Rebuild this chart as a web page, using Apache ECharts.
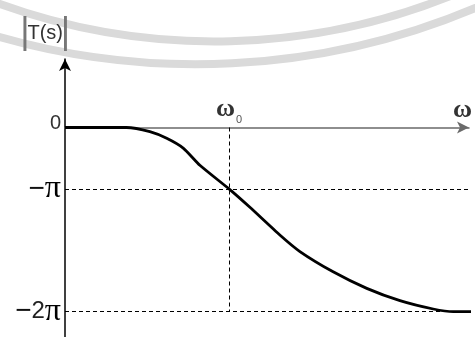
<!DOCTYPE html>
<html>
<head>
<meta charset="utf-8">
<script src="https://cdn.jsdelivr.net/npm/echarts@6/dist/echarts.min.js"></script>
<style>html,body{margin:0;padding:0;background:#fff}#c{width:475px;height:337px}</style>
</head>
<body>
<div id="c"></div>
<script>
// x in units where omega_0 = 4.0, y in "levels": 0 -> 0, -pi -> -1, -2pi -> -3
const omegaX = [0, 1.50, 2.07, 2.48, 2.89, 3.29, 4.0, 4.51, 5.24, 5.73, 6.54, 7.36, 8.17, 8.98, 9.47, 10.0];
const phaseY = [0, 0, -0.068, -0.176, -0.339, -0.615, -1.0, -1.30, -1.75, -2.02, -2.35, -2.62, -2.82, -2.956, -3.0, -3.0];
const yTickValues = [0, -1, -3];
const yTickLabels = ['0', '−π', '−2π'];
const omega0 = 4.0;
const flatStart = 9.47;
const xMax = (469 - 65) / 41;

const chart = echarts.init(document.getElementById('c'), null, {renderer: 'canvas'});
const dash = {color: '#000', width: 1, type: [4, 3]};
chart.setOption({
  animation: false,
  backgroundColor: '#fff',
  graphic: [
    {type: 'arc', silent: true, z: -10, shape: {cx: 214.6, cy: -593, r: 634.4, startAngle: Math.PI/2 - 0.45, endAngle: Math.PI/2 + 0.4}, style: {stroke: '#dadada', lineWidth: 8, fill: null}},
    {type: 'arc', silent: true, z: -10, shape: {cx: 196, cy: -656.7, r: 720.9, startAngle: Math.PI/2 - 0.45, endAngle: Math.PI/2 + 0.35}, style: {stroke: '#dadada', lineWidth: 8, fill: null}}
  ],
  grid: {left: 65, right: 6, top: 59, bottom: 0, containLabel: false},
  xAxis: {
    type: 'value', min: 0, max: xMax,
    axisLine: {onZero: true, lineStyle: {color: '#6a6a6a', width: 1.5}, symbol: ['none', 'arrow'], symbolSize: [9, 12]},
    axisTick: {show: false},
    splitLine: {show: false},
    axisLabel: {show: false},
    name: 'ω', nameLocation: 'end', nameGap: -16,
    nameTextStyle: {fontFamily: 'Liberation Serif', fontSize: 26, fontWeight: 'bold', color: '#333', verticalAlign: 'bottom', padding: [0, 0, 4, 0]}
  },
  yAxis: {
    type: 'value', min: -(337 - 127.5) / 61.4, max: (127.5 - 59) / 61.4,
    axisLine: {onZero: true, lineStyle: {color: '#000', width: 1.5}, symbol: ['none', 'arrow'], symbolSize: [9, 12]},
    axisTick: {show: false},
    splitLine: {show: false},
    axisLabel: {
      customValues: yTickValues, margin: 4,
      formatter: (v) => {
        const t = yTickLabels[yTickValues.indexOf(v)];
        if (t === '0') return '{z|0}';
        if (t === '−π') return '{m|−}{p|π}';
        return '{m|−}{n|2}{p|π}';
      },
      rich: {
        z: {fontFamily: 'Liberation Sans Narrow, Liberation Sans', fontSize: 20, color: '#333', padding: [0, 0, 8, 0]},
        m: {fontFamily: 'Liberation Sans', fontSize: 28, color: '#111'},
        n: {fontFamily: 'Liberation Sans', fontSize: 24, color: '#222'},
        p: {fontFamily: 'Liberation Serif', fontSize: 32, color: '#000'}
      }
    },
    name: '{b||}{t|T(s)}{b||}', nameLocation: 'end', nameGap: 8,
    nameTextStyle: {
      align: 'right', padding: [0, -3, 0, 0],
      rich: {
        b: {fontFamily: 'Liberation Sans', fontSize: 36, color: '#777', width: 5, align: 'center'},
        t: {fontFamily: 'Liberation Sans', fontSize: 20, color: '#333'}
      }
    }
  },
  series: [{
    type: 'line',
    data: omegaX.map((x, i) => [x, phaseY[i]]),
    smooth: 0.2,
    clip: false,
    showSymbol: false,
    lineStyle: {color: '#000', width: 2.8},
    markLine: {
      silent: true, symbol: 'none', label: {show: false},
      lineStyle: dash,
      data: [
        [{coord: [0, -1]}, {coord: [xMax, -1]}],
        [{coord: [0, -3]}, {coord: [flatStart, -3]}],
        [{coord: [omega0, 0], label: {show: true, position: 'start', distance: 5, formatter: '{w|ω}{s|0}',
          rich: {
            w: {fontFamily: 'Liberation Serif', fontSize: 26, fontWeight: 'bold', color: '#333', verticalAlign: 'bottom'},
            s: {fontFamily: 'Liberation Sans', fontSize: 11, color: '#555', verticalAlign: 'bottom', padding: [0, 0, -3, 1]}
          }}}, {coord: [omega0, -3]}]
      ]
    }
  }]
});
</script>
</body>
</html>
